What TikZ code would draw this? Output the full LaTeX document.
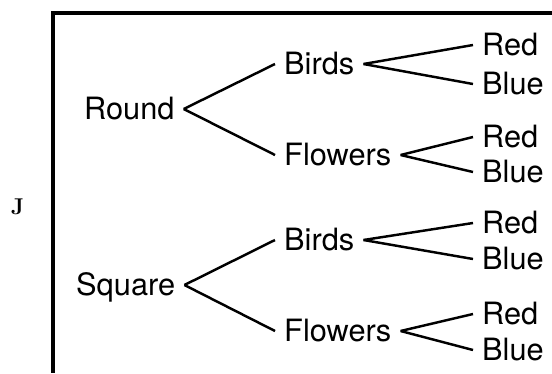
\documentclass[tikz,border=0pt]{standalone}
\usepackage{fontspec}
\newfontfamily\treefont{TeX Gyre Heros}
\usepackage{tikz}

\begin{document}
\begin{tikzpicture}[x=0.02cm, y=-0.02cm, line width=1.4pt,
  lbl/.style={anchor=west, inner xsep=0.16cm, inner ysep=0pt, text height=12.5pt,
    text depth=0pt, font=\treefont\fontsize{17.5}{20}\selectfont}]
  \useasboundingbox (0,0) rectangle (552,373);
  \draw[line width=2pt] (552,13) -- (53,13) -- (53,373);
  \node[font=\bfseries\fontsize{13}{15}\selectfont] (qJ) at (17.5,207) {J};
  % first level
  \node[lbl] (Round) at (75,109) {Round};
  \node[lbl] (Square) at (67,285) {Square};
  % second level
  \node[lbl] (BirdsA) at (275,64) {Birds};
  \node[lbl] (FlowersA) at (275,155) {Flowers};
  \node[lbl] (BirdsB) at (275,240) {Birds};
  \node[lbl] (FlowersB) at (275,331) {Flowers};
  % leaves
  \node[lbl] (RedA) at (473,45) {Red};
  \node[lbl] (BlueA) at (473,84) {Blue};
  \node[lbl] (RedB) at (473,137) {Red};
  \node[lbl] (BlueB) at (473,172) {Blue};
  \node[lbl] (RedC) at (473,223) {Red};
  \node[lbl] (BlueC) at (473,259) {Blue};
  \node[lbl] (RedD) at (473,314) {Red};
  \node[lbl] (BlueD) at (473,350) {Blue};
  \foreach \p/\c in {Round/BirdsA, Round/FlowersA, Square/BirdsB, Square/FlowersB,
      BirdsA/RedA, BirdsA/BlueA, FlowersA/RedB, FlowersA/BlueB,
      BirdsB/RedC, BirdsB/BlueC, FlowersB/RedD, FlowersB/BlueD}
    \draw (\p.east) -- (\c.west);
\end{tikzpicture}
\end{document}
